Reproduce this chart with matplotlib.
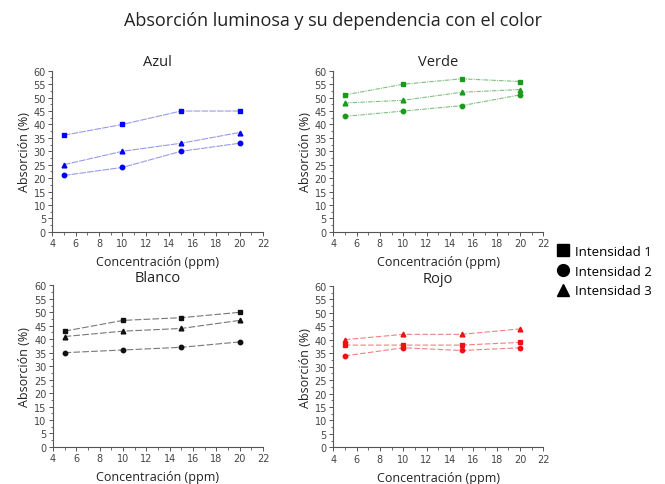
import matplotlib
matplotlib.use("Agg")
import matplotlib.pyplot as plt
from matplotlib.lines import Line2D

conc = [5, 10, 15, 20]

azul_i1 = [36, 40, 45, 45]
azul_i2 = [21, 24, 30, 33]
azul_i3 = [25, 30, 33, 37]

verde_i1 = [51, 55, 57, 56]
verde_i2 = [43, 45, 47, 51]
verde_i3 = [48, 49, 52, 53]

blanco_i1 = [43, 47, 48, 50]
blanco_i2 = [35, 36, 37, 39]
blanco_i3 = [41, 43, 44, 47]

rojo_i1 = [38, 38, 38, 39]
rojo_i2 = [34, 37, 36, 37]
rojo_i3 = [40, 42, 42, 44]

xticks = [4, 6, 8, 10, 12, 14, 16, 18, 20, 22]
yticks = list(range(0, 61, 5))

panels = [
    ("Azul", azul_i1, azul_i2, azul_i3, "#0000ff", "#9a9ae8", [0.0785, 0.520, 0.317, 0.332], (0, (6, 1)), 4),
    ("Verde", verde_i1, verde_i2, verde_i3, "#1a9a1a", "#7fbf7f", [0.501, 0.520, 0.316, 0.332], (0, (4, 1, 1, 1)), 4),
    ("Blanco", blanco_i1, blanco_i2, blanco_i3, "#111111", "#777777", [0.0795, 0.0765, 0.316, 0.333], (0, (6, 2)), 0.5),
    ("Rojo", rojo_i1, rojo_i2, rojo_i3, "#ee1111", "#f08080", [0.501, 0.0755, 0.316, 0.333], (0, (5, 2)), 0.5),
]

fig = plt.figure(figsize=(6.65, 4.85), dpi=100)
fig.text(0.5, 0.957, "Absorción luminosa y su dependencia con el color",
         ha="center", va="center", fontsize=13, family="Open Sans", color="#222222")

for title, i1, i2, i3, mc, lc, pos, ls, tpad in panels:
    ax = fig.add_axes(pos)
    ax.plot(conc, i1, linestyle=ls, color=lc, lw=0.8, marker="s", ms=3.2, mfc=mc, mec=mc)
    ax.plot(conc, i2, linestyle=ls, color=lc, lw=0.8, marker="o", ms=3.2, mfc=mc, mec=mc)
    ax.plot(conc, i3, linestyle=ls, color=lc, lw=0.8, marker="^", ms=3.4, mfc=mc, mec=mc)
    ax.set_xlim(4, 22)
    ax.set_ylim(0, 60)
    ax.set_xticks(xticks)
    ax.set_yticks(yticks)
    ax.set_xticks(range(5, 22, 2), minor=True)
    ax.set_yticks([y + 2.5 for y in range(0, 60, 5)], minor=True)
    for s in ["top", "right"]:
        ax.spines[s].set_visible(False)
    for s in ["left", "bottom"]:
        ax.spines[s].set_color("#555555")
        ax.spines[s].set_linewidth(0.8)
    ax.tick_params(axis="both", which="major", labelsize=7, colors="#555555",
                   length=3, width=0.7, labelcolor="#444444", pad=1.5)
    ax.tick_params(axis="both", which="minor", length=1.8, width=0.6, colors="#555555")
    ax.set_title(title, fontsize=10.5, family="Open Sans", color="#222222", pad=tpad)
    ax.set_xlabel("Concentración (ppm)", fontsize=9, family="Open Sans", color="#222222", labelpad=5)
    ax.set_ylabel("Absorción (%)", fontsize=9, family="Open Sans", color="#222222", labelpad=2)

handles = [
    Line2D([], [], linestyle="none", marker="s", color="black", ms=8),
    Line2D([], [], linestyle="none", marker="o", color="black", ms=8.5),
    Line2D([], [], linestyle="none", marker="^", color="black", ms=9),
]
fig.legend(handles, ["Intensidad 1", "Intensidad 2", "Intensidad 3"],
           loc="center left", bbox_to_anchor=(0.8175, 0.439), frameon=False,
           prop={"family": "Open Sans", "size": 9.5}, handletextpad=0.3,
           labelspacing=0.5, handlelength=1.2)

fig.savefig("out.png", dpi=100)
